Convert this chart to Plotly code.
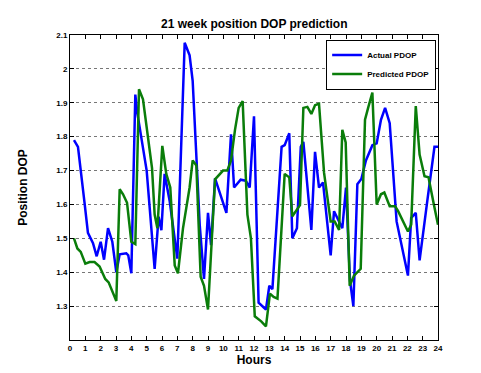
import plotly.graph_objects as go

# Actual PDOP (hours, value)
actual_hours = [0.26, 0.52, 0.96, 1.17, 1.5, 1.74, 2.0, 2.22, 2.48, 2.76, 3.02, 3.24, 3.67, 3.8, 4.0,
                4.26, 4.39, 4.54, 5.0, 5.52, 5.78, 5.96, 6.17, 6.5, 7.0, 7.48, 7.8, 8.0,
                8.46, 8.74, 9.0, 9.2, 9.46, 10.2, 10.5, 10.7, 11.13, 11.46, 11.72, 12.0, 12.3,
                12.78, 13.0, 13.2, 13.8, 14.0, 14.3, 14.5, 14.8, 15.05, 15.22, 15.74, 15.98,
                16.24, 16.5, 17.0, 17.22, 17.65, 17.76, 18.0, 18.26, 18.48, 18.74, 19.0, 19.3,
                19.72, 20.0, 20.28, 20.55, 20.85, 21.3, 22.04, 22.25, 22.55, 22.8, 23.3, 23.77, 24.0]
actual_pdop = [1.79, 1.77, 1.6, 1.516, 1.486, 1.447, 1.49, 1.437, 1.53, 1.49, 1.40, 1.453, 1.456, 1.45, 1.397,
               1.924, 1.87, 1.83, 1.7, 1.41, 1.564, 1.524, 1.69, 1.61, 1.44, 2.077, 2.04, 1.965,
               1.54, 1.38, 1.575, 1.48, 1.677, 1.575, 1.807, 1.65, 1.673, 1.67, 1.65, 1.86, 1.31,
               1.29, 1.36, 1.35, 1.77, 1.775, 1.81, 1.50, 1.53, 1.77, 1.785, 1.525, 1.755,
               1.65, 1.665, 1.45, 1.58, 1.54, 1.53, 1.65, 1.376, 1.30, 1.66, 1.675, 1.73,
               1.775, 1.78, 1.85, 1.885, 1.84, 1.55, 1.39, 1.56, 1.575, 1.435, 1.61, 1.77, 1.77]

# Predicted PDOP (hours, value)
pred_hours = [0.26, 0.48, 0.7, 1.0, 1.28, 1.6, 1.93, 2.3, 2.52, 3.02, 3.24, 3.46, 3.72, 4.0, 4.26,
              4.5, 4.76, 5.08, 5.35, 5.52, 5.7, 6.02, 6.28, 6.54, 6.83, 7.04, 7.37, 7.8, 8.0,
              8.24, 8.52, 8.74, 9.0, 9.46, 9.98, 10.26, 10.5, 10.76, 11.0, 11.26, 11.57, 11.8,
              12.05, 12.47, 12.78, 13.04, 13.28, 13.53, 14.0, 14.3, 14.5, 15.0, 15.22, 15.48,
              15.74, 15.98, 16.24, 16.57, 17.0, 17.26, 17.55, 17.76, 17.98, 18.24, 18.52, 18.96,
              19.24, 19.46, 19.72, 20.0, 20.28, 20.5, 20.85, 21.2, 21.4, 22.04, 22.25, 22.55,
              22.8, 23.12, 23.38, 23.73, 24.0]
pred_pdop = [1.50, 1.47, 1.46, 1.425, 1.43, 1.43, 1.417, 1.38, 1.37, 1.315, 1.645, 1.63, 1.605, 1.49, 1.483,
             1.94, 1.91, 1.807, 1.707, 1.57, 1.53, 1.773, 1.69, 1.65, 1.42, 1.397, 1.53, 1.65, 1.73,
             1.715, 1.387, 1.36, 1.29, 1.674, 1.70, 1.70, 1.73, 1.82, 1.885, 1.905, 1.57, 1.50,
             1.27, 1.255, 1.24, 1.337, 1.327, 1.322, 1.69, 1.68, 1.565, 1.598, 1.885, 1.888,
             1.867, 1.893, 1.897, 1.693, 1.55, 1.55, 1.525, 1.82, 1.783, 1.36, 1.39, 1.41,
             1.85, 1.888, 1.93, 1.60, 1.63, 1.635, 1.595, 1.595, 1.58, 1.52, 1.54, 1.89,
             1.747, 1.683, 1.68, 1.60, 1.54]

x_ticks = list(range(0, 25))
y_ticks = [1.3, 1.4, 1.5, 1.6, 1.7, 1.8, 1.9, 2.0, 2.1]
y_tick_labels = ["1.3", "1.4", "1.5", "1.6", "1.7", "1.8", "1.9", "2", "2.1"]

FONT = "Arial, Liberation Sans, sans-serif"

fig = go.Figure()
fig.add_trace(go.Scatter(x=actual_hours, y=actual_pdop, mode="lines", name="<b>Actual PDOP</b>",
                         line=dict(color="#0000ff", width=2.5)))
fig.add_trace(go.Scatter(x=pred_hours, y=pred_pdop, mode="lines", name="<b>Predicted PDOP</b>",
                         line=dict(color="#0a7d0a", width=2.5)))

axis_font = dict(family=FONT, size=8, color="black")
fig.update_layout(
    width=481, height=373,
    margin=dict(l=62, r=51, t=27, b=41),
    paper_bgcolor="white", plot_bgcolor="white",
    title=dict(text="<b>21 week position DOP prediction</b>", x=0.512, xanchor="center",
               y=0.957, yanchor="middle",
               font=dict(family=FONT, size=12, color="black")),
    showlegend=True,
    legend=dict(x=0.995, xanchor="right", y=0.985, yanchor="top",
                bordercolor="black", borderwidth=1, bgcolor="white",
                font=dict(family=FONT, size=8, color="black"),
                tracegroupgap=0, itemwidth=30),
    xaxis=dict(range=[0, 24], tickvals=x_ticks, ticktext=[f"<b>{t}</b>" for t in x_ticks],
               ticks="inside", ticklen=4, tickcolor="black", showline=True, linecolor="black",
               linewidth=1, mirror="ticks", showgrid=False, zeroline=False,
               tickfont=axis_font,
               title=dict(text="<b>Hours</b>", standoff=2,
                          font=dict(family=FONT, size=12, color="black"))),
    yaxis=dict(range=[1.2, 2.1], tickvals=y_ticks, ticktext=[f"<b>{t}</b>" for t in y_tick_labels],
               ticks="inside", ticklen=4, tickcolor="black", showline=True, linecolor="black",
               linewidth=1, mirror="ticks", showgrid=True, gridcolor="#777777", griddash="dot",
               gridwidth=1, zeroline=False, tickfont=axis_font,
               title=dict(text="<b>Position DOP</b>", standoff=26,
                          font=dict(family=FONT, size=12, color="black"))),
)

fig.write_html("out.html")
